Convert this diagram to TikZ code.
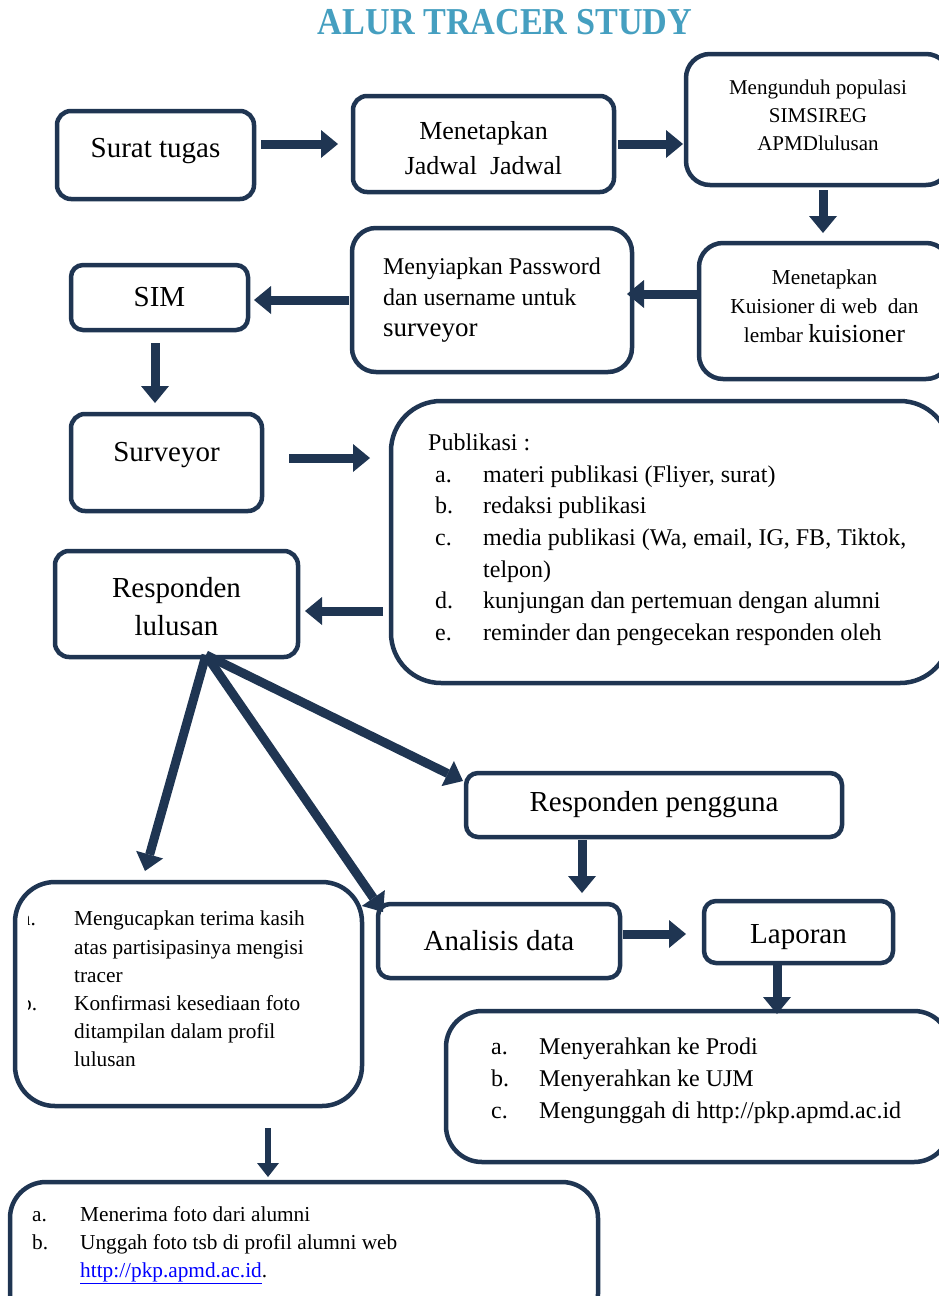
\documentclass[tikz,border=0pt]{standalone}
\usepackage{fontspec}
\setmainfont{Liberation Serif}
\usetikzlibrary{arrows.meta,calc,positioning}

\definecolor{navy}{HTML}{1F3552}
\definecolor{judul}{HTML}{459FC0}
\newcommand{\li}[3][48pt]{\makebox[#1][l]{#2}#3}
\newcommand{\atas}[1]{\rule{0pt}{#1}}
\newcommand{\bawah}[1]{\rule[-#1]{0pt}{#1}}

\begin{document}
\begin{tikzpicture}[x=1pt, y=-1pt, >={Triangle[width=28pt,length=17pt,line width=0pt]}]
\tikzstyle{kotak}=[draw=navy, line width=4.5pt, rounded corners=14pt, fill=white, align=center, inner sep=0pt, outer sep=0pt, font=\fontsize{29}{34}\selectfont]
\tikzstyle{panah}=[->, color=navy, line width=9pt]
\tikzstyle{daftar}=[anchor=north west, align=left, inner sep=0pt]
\clip (0,0) rectangle (939,1296);

\node (judul) at (505,22) {\scalebox{0.9}[1]{\fontsize{38}{38}\selectfont\bfseries\color{judul}ALUR TRACER STUDY}};

% kotak-kotak
\node[kotak, minimum width=197pt, minimum height=88pt] (surat) at (155.5,155) {Surat tugas\bawah{14pt}};
\node[kotak, minimum width=261pt, minimum height=96pt, font=\fontsize{26}{35}\selectfont] (jadwal) at (483.5,144) {\atas{26pt}Menetapkan\\Jadwal\ \ Jadwal};
\node[kotak, minimum width=264pt, minimum height=131pt, rounded corners=24pt, font=\fontsize{21}{28}\selectfont] (unduh) at (818,119.5) {Mengunduh populasi\\SIMSIREG\\APMDlulusan\bawah{8pt}};
\node[kotak, minimum width=251pt, minimum height=136pt, rounded corners=24pt, font=\fontsize{21.3}{29}\selectfont] (kuis) at (824.5,311) {Menetapkan\\Kuisioner di web\ \ dan\\lembar {\fontsize{26}{29}\selectfont kuisioner}\bawah{10pt}};
\node[kotak, minimum width=280pt, minimum height=144pt, rounded corners=24pt, align=left, font=\fontsize{24}{31}\selectfont] (siap) at (492,300) {Menyiapkan Password\\dan username untuk\\{\fontsize{27}{35}\selectfont surveyor}};
\node[kotak, minimum width=177pt, minimum height=65pt, rounded corners=12pt] (sim) at (159.5,297.5) {SIM};
\node[kotak, minimum width=191pt, minimum height=97pt] (surveyor) at (166.5,462.5) {Surveyor\bawah{22pt}};
\node[kotak, minimum width=559pt, minimum height=282pt, rounded corners=50pt] (publikasi) at (670.5,542) {};
\node[kotak, minimum width=243pt, minimum height=106pt, font=\fontsize{29}{38}\selectfont] (lulusan) at (176.5,604) {\atas{26pt}Responden\\lulusan};
\node[kotak, minimum width=376pt, minimum height=64pt, rounded corners=12pt] (pengguna) at (654,805) {Responden pengguna};
\node[kotak, minimum width=242pt, minimum height=74pt, rounded corners=12pt] (analisis) at (499,941) {Analisis data};
\node[kotak, minimum width=189pt, minimum height=62pt, rounded corners=12pt] (laporan) at (798.5,932) {\atas{29pt}Laporan};
\node[kotak, minimum width=347pt, minimum height=224pt, rounded corners=40pt] (terimakasih) at (188.5,994) {};
\node[kotak, minimum width=504pt, minimum height=151pt, rounded corners=36pt] (serah) at (698,1086.5) {};
\node[kotak, minimum width=588pt, minimum height=148pt, rounded corners=36pt] (foto) at (304,1256) {};

% isi daftar
\node[daftar, font=\fontsize{24}{31.7}\selectfont] (isipub) at (428,428) {\strut Publikasi :\\
  \hspace*{7pt}\li{a.}{materi publikasi (Fliyer, surat)}\\
  \hspace*{7pt}\li{b.}{redaksi publikasi}\\
  \hspace*{7pt}\li{c.}{media publikasi (Wa, email, IG, FB, Tiktok,}\\
  \hspace*{55pt}telpon)\\
  \hspace*{7pt}\li{d.}{kunjungan dan pertemuan dengan alumni}\\
  \hspace*{7pt}\li{e.}{reminder dan pengecekan responden oleh}};
\begin{scope}
\clip (28,890) rectangle (360,1100);
\node[daftar, font=\fontsize{21.3}{28.2}\selectfont] (isiterima) at (21,906) {\strut\li[53pt]{a.}{Mengucapkan terima kasih}\\
  \hspace*{53pt}atas partisipasinya mengisi\\
  \hspace*{53pt}tracer\\
  \li[53pt]{b.}{Konfirmasi kesediaan foto}\\
  \hspace*{53pt}ditampilan dalam profil\\
  \hspace*{53pt}lulusan};
\end{scope}
\node[daftar, font=\fontsize{24}{32}\selectfont] (isiserah) at (491,1031.6) {\strut\li{a.}{Menyerahkan ke Prodi}\\
  \li{b.}{Menyerahkan ke UJM}\\
  \li{c.}{Mengunggah di http://pkp.apmd.ac.id}};
\node[daftar, font=\fontsize{21.3}{28}\selectfont] (isifoto) at (32,1201.4) {\strut\li{a.}{Menerima foto dari alumni}\\
  \li{b.}{Unggah foto tsb di profil alumni web}\\
  \hspace*{48pt}\textcolor{blue}{\underline{http://pkp.apmd.ac.id}}.};

% panah
\draw[panah, shorten <=7pt, shorten >=15pt] (surat.east |- jadwal.west) -- (jadwal.west);
\draw[panah, shorten <=4pt, shorten >=3pt] (jadwal.east) -- (jadwal.east -| unduh.west);
\draw[panah, shorten <=5pt, shorten >=10pt] ($(unduh.south)+(5,0)$) -- ($(unduh.south |- kuis.north)+(5,0)$);
\draw[panah, shorten >=-5pt] ($(kuis.west)+(0,-17)$) -- ($(kuis.west -| siap.east)+(0,-17)$);
\draw[panah, shorten <=3pt, shorten >=6pt] (siap.west) -- (siap.west -| sim.east);
\draw[panah, shorten <=13pt, shorten >=11pt] ($(sim.south)+(-4.5,0)$) -- ($(sim.south |- surveyor.north)+(-4.5,0)$);
\draw[panah, shorten <=27pt, shorten >=21pt] ($(surveyor.east)+(0,-4.5)$) -- ($(surveyor.east -| publikasi.west)+(0,-4.5)$);
\draw[panah, shorten <=8pt, shorten >=7pt] ($(lulusan.east -| publikasi.west)+(0,7)$) -- ($(lulusan.east)+(0,7)$);
\coordinate (cabang) at ($(lulusan.south)+(29.5,-2)$);
\path[panah]
(cabang) edge ($(terimakasih.north)+(-43.5,-11)$)
         edge ($(analisis.north west)+(5,8)$)
         edge ($(pengguna.north west)+(-3,8)$);
\draw[panah] ($(pengguna.south)+(-72,3)$) -- ($(analisis.north)+(83,-11)$);
\draw[panah] ($(analisis.east)+(3,-7)$) -- ($(laporan.west)+(-18,2)$);
\draw[panah] ($(laporan.south)+(-21.5,2)$) -- ($(serah.north)+(79,3)$);
\draw[panah, line width=6pt, >={Triangle[width=22pt,length=14pt,line width=0pt]}] ($(terimakasih.south)+(79.5,22)$) -- ($(foto.north)+(-36,-5)$);
\end{tikzpicture}
\end{document}
